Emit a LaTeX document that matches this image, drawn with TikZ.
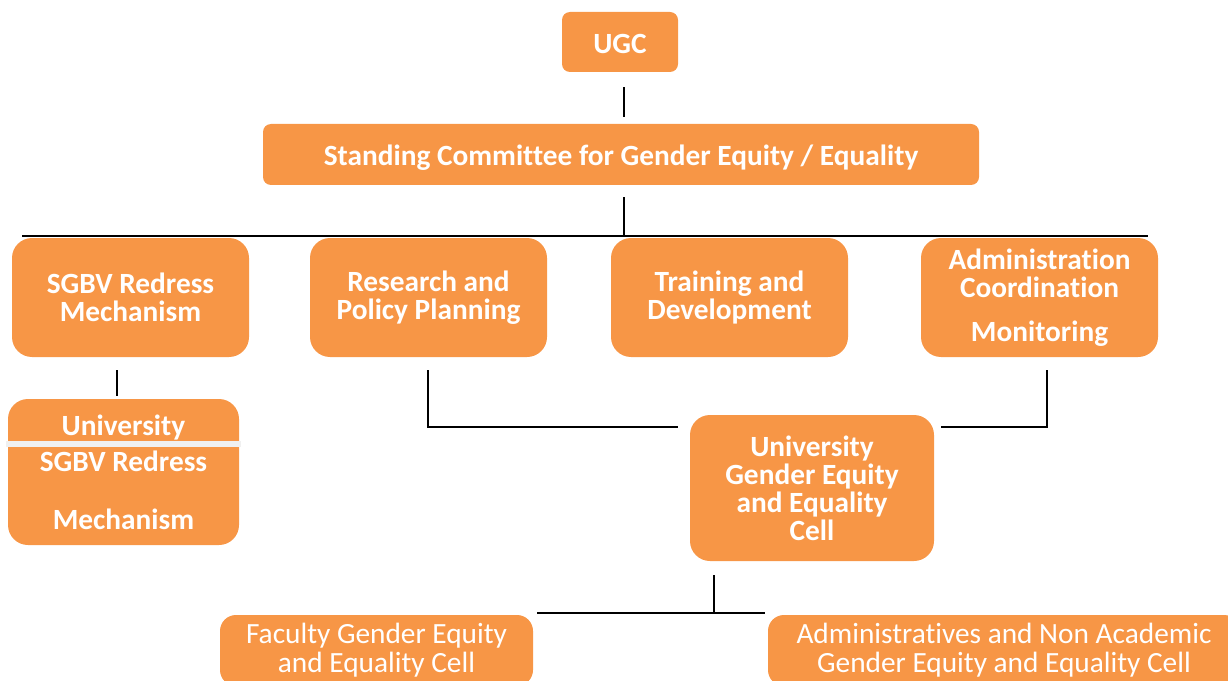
\documentclass[tikz,border=0pt]{standalone}
\usepackage{fontspec}
\setmainfont{Carlito}[Ligatures={NoCommon,NoContextual},Contextuals=NoAlternate]
\definecolor{boxorange}{HTML}{F79646}
\definecolor{stripe}{HTML}{F0F0F0}
\begin{document}
\begin{tikzpicture}[x=0.75pt,y=-0.75pt,
  box/.style={fill=boxorange, text=white, align=center, inner sep=0pt,
    font=\bfseries\fontsize{22}{21}\selectfont},
  smallr/.style={rounded corners=6pt, text depth=1pt, text height=18pt},
  bigr/.style={rounded corners=15pt},
  thinbox/.style={fill=boxorange, text=white, align=center, inner sep=0pt, rounded corners=12pt,
    font=\fontsize{22}{21.75}\selectfont},
  conn/.style={line width=1.5pt, black}]
\useasboundingbox (0,0) rectangle (1228,681);
\clip (0,0) rectangle (1228,681);
\node[box,smallr,minimum width={116*0.75pt},minimum height={60*0.75pt}] (ugc) at (620,42) {UGC};
\node[box,smallr,minimum width={716*0.75pt},minimum height={61*0.75pt}] (sc) at (621,154.5) {Standing Committee for Gender Equity / Equality};
\node[box,bigr,minimum width={237*0.75pt},minimum height={119*0.75pt}] (sgbv) at (130.5,297.5) {SGBV Redress\\Mechanism};
\node[box,bigr,minimum width={237*0.75pt},minimum height={119*0.75pt}] (rpp) at (428.5,297.5) {Research and\\Policy Planning};
\node[box,bigr,minimum width={237*0.75pt},minimum height={119*0.75pt}] (td) at (729.5,297.5) {Training and\\Development};
\node[box,bigr,minimum width={237*0.75pt},minimum height={119*0.75pt}] (adm) at (1039.5,297.5) {Administration\\Coordination\\[12pt]Monitoring};
\node[box,bigr,minimum width={231*0.75pt},minimum height={146*0.75pt}] (usgbv) at (123.5,472) {University\\[6pt]SGBV Redress\\[22.5pt]Mechanism};
\fill[stripe] (6,441) rectangle (241,447);
\node[box,bigr,minimum width={244*0.75pt},minimum height={146*0.75pt}] (ugeec) at (812,488) {University\\Gender Equity\\and Equality\\Cell};
\node[thinbox,minimum width={313*0.75pt},minimum height={71*0.75pt}] (fac) at (376.5,650.5) {Faculty Gender Equity\\and Equality Cell};
\node[thinbox,minimum width={472*0.75pt},minimum height={71*0.75pt}] (nonac) at (1004,650.5) {Administratives and Non Academic\\Gender Equity and Equality Cell};
\coordinate (barL) at (22,236);
\coordinate (barR) at (1148,236);
\coordinate (barM) at (624,236);
\coordinate (botL) at (537,613);
\coordinate (botR) at (765,613);
\coordinate (botM) at (714,613);
\draw[conn] ([shift={(4,15)}]ugc.south) -- ([shift={(3,-7)}]sc.north);
\draw[conn] ([shift={(3,12)}]sc.south) -- (barM);
\draw[conn] (barL) -- (barR);
\draw[conn] ([shift={(-13.5,13)}]sgbv.south) -- ([shift={(-6.5,-3)}]usgbv.north);
\draw[conn] ([shift={(-0.5,13)}]rpp.south) |- ([shift={(-12,-61)}]ugeec.west);
\draw[conn] ([shift={(7.5,13)}]adm.south) |- ([shift={(7,-61)}]ugeec.east);
\draw[conn] ([shift={(-98,14)}]ugeec.south) -- (botM);
\draw[conn] (botL) -- (botR);
\end{tikzpicture}
\end{document}
